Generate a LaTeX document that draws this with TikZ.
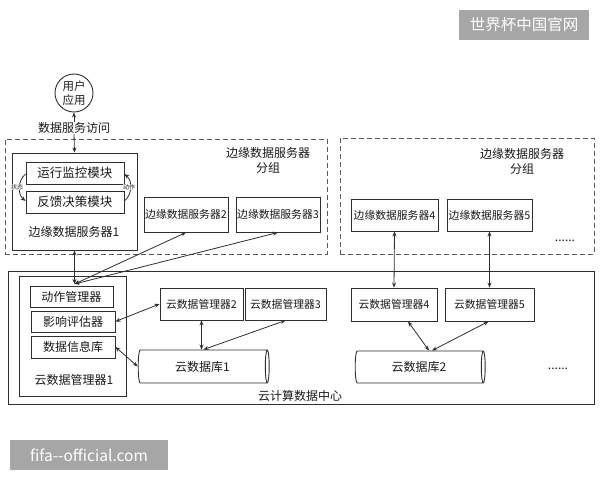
\documentclass[tikz,border=0pt]{standalone}
\usepackage{fontspec}
\setmainfont{Noto Sans CJK SC}
\usetikzlibrary{arrows.meta,shapes.geometric}
\definecolor{ln}{HTML}{2E2E2E}
\definecolor{wm}{HTML}{A6A6A6}
\tikzset{
  every node/.style={text=black!90, inner sep=0pt, font=\fontsize{12}{15}\selectfont},
  box/.style={draw=ln, line width=0.9pt, rectangle},
  dashbox/.style={draw=ln!80, line width=0.9pt, dash pattern=on 5pt off 3pt, rectangle},
  arr/.style={draw=ln, line width=0.8pt, -{Stealth[length=5pt,width=4pt]}},
  darr/.style={draw=ln, line width=0.8pt, {Stealth[length=5pt,width=4pt]}-{Stealth[length=5pt,width=4pt]}},
  small/.style={font=\fontsize{10.8}{13}\selectfont},
  tiny/.style={font=\fontsize{6}{7}\selectfont},
  db/.style={draw=ln, line width=0.9pt, cylinder, shape border rotate=0, shape aspect=0.35},
  wmark/.style={fill=wm, text=white, font=\fontsize{15.5}{18}\selectfont}
}
\begin{document}
\begin{tikzpicture}[x=1pt,y=-1pt]
\useasboundingbox (0,0) rectangle (600,480);
% watermarks
\node[wmark, minimum width=130pt, minimum height=30pt] (wm1) at (524,25) {世界杯中国官网};
\node[wmark, minimum width=158pt, minimum height=30pt] (wm2) at (89,455) {fifa{-}{-}official.com};
% user
\node[draw=ln, line width=0.9pt, circle, minimum size=38pt, align=center, font=\fontsize{11.5}{14}\selectfont] (user) at (74,93) {用户\\应用};
\node (acc) at (74,128) {数据服务访问};
% group 1
\node[dashbox, minimum width=322pt, minimum height=115pt] (g1) at (166,196.5) {};
\node[align=center] (g1lab) at (268,160) {边缘数据服务器\\分组};
\node[box, minimum width=125pt, minimum height=97pt] (e1) at (74.5,201.5) {};
\node[box, minimum width=98pt, minimum height=22pt, font=\fontsize{12.5}{15}\selectfont] (mon) at (75,173) {运行监控模块};
\node[box, minimum width=98pt, minimum height=22pt, font=\fontsize{12.5}{15}\selectfont] (fb) at (75,202) {反馈决策模块};
\node (e1lab) at (74,232) {边缘数据服务器1};
\node[box, small, minimum width=84pt, minimum height=35pt] (e2) at (186,214.5) {边缘数据服务器2};
\node[box, small, minimum width=84pt, minimum height=35pt] (e3) at (278,214.5) {边缘数据服务器3};
\draw[arr] ([yshift=-1pt]mon.west) to[out=220,in=140] ([yshift=1pt]fb.west);
\draw[arr] ([yshift=1pt]fb.east) to[out=40,in=-40] ([yshift=-1pt]mon.east);
\node[tiny, fill=white, inner sep=0.3pt] (st) at (17,187) {状态};
\node[tiny, fill=white, inner sep=0.3pt] (ac) at (129,187) {动作};
% group 2
\node[dashbox, minimum width=254pt, minimum height=116pt] (g2) at (467,196) {};
\node[align=center] (g2lab) at (522,161) {边缘数据服务器\\分组};
\node[box, small, minimum width=87pt, minimum height=32pt] (e4) at (394.5,215) {边缘数据服务器4};
\node[box, small, minimum width=85pt, minimum height=32pt] (e5) at (489.5,215) {边缘数据服务器5};
\node (dots1) at (565,241) {......};
% data center
\node[box, minimum width=586pt, minimum height=133pt] (dc) at (301,337.5) {};
\node (dclab) at (300,396) {云计算数据中心};
\node[box, minimum width=107pt, minimum height=120pt] (m1) at (72.5,336) {};
\node[box, minimum width=83pt, minimum height=21pt] (am) at (71.5,296.5) {动作管理器};
\node[box, minimum width=84pt, minimum height=21pt] (ie) at (73,321.5) {影响评估器};
\node[box, minimum width=84pt, minimum height=22pt] (di) at (73,347) {数据信息库};
\node (m1lab) at (74,380) {云数据管理器1};
\node[box, small, minimum width=83pt, minimum height=32pt] (m2) at (201.5,304) {云数据管理器2};
\node[box, small, minimum width=81pt, minimum height=32pt] (m3) at (285.5,304) {云数据管理器3};
\node[db, minimum height=131pt, minimum width=33pt] (db1) at (202.5,366.5) {云数据库1};
\node[box, small, minimum width=86pt, minimum height=33pt] (m4) at (394,304.5) {云数据管理器4};
\node[box, small, minimum width=89pt, minimum height=33pt] (m5) at (489.5,304.5) {云数据管理器5};
\node[db, minimum height=130pt, minimum width=32pt] (db2) at (419,367) {云数据库2};
\node (dots2) at (558,369) {......};
% connectors
\coordinate (hub) at (74.5,284);
\draw[arr] (acc.north) -- (user.south);
\draw[arr] (acc.south) -- (e1.north);
\draw[darr] (e1.south) -- (hub);
\draw[darr] (hub) -- (e2.south);
\draw[darr] (hub) -- (e3.south);
\draw[darr] (ie.east) -- (m2.west);
\draw[darr] (di.east) -- (db1.west);
\draw[darr] (m2.south) -- ([xshift=-1pt]db1.north);
\draw[darr] (m3.south) -- ([xshift=1pt]db1.north);
\draw[darr] (e4.south) -- (m4.north);
\draw[darr] (e5.south) -- (m5.north);
\draw[darr] ([xshift=14pt]m4.south) -- ([xshift=10pt]db2.north);
\draw[darr] ([xshift=-1pt]m5.south) -- ([xshift=13pt]db2.north);
\end{tikzpicture}
\end{document}
